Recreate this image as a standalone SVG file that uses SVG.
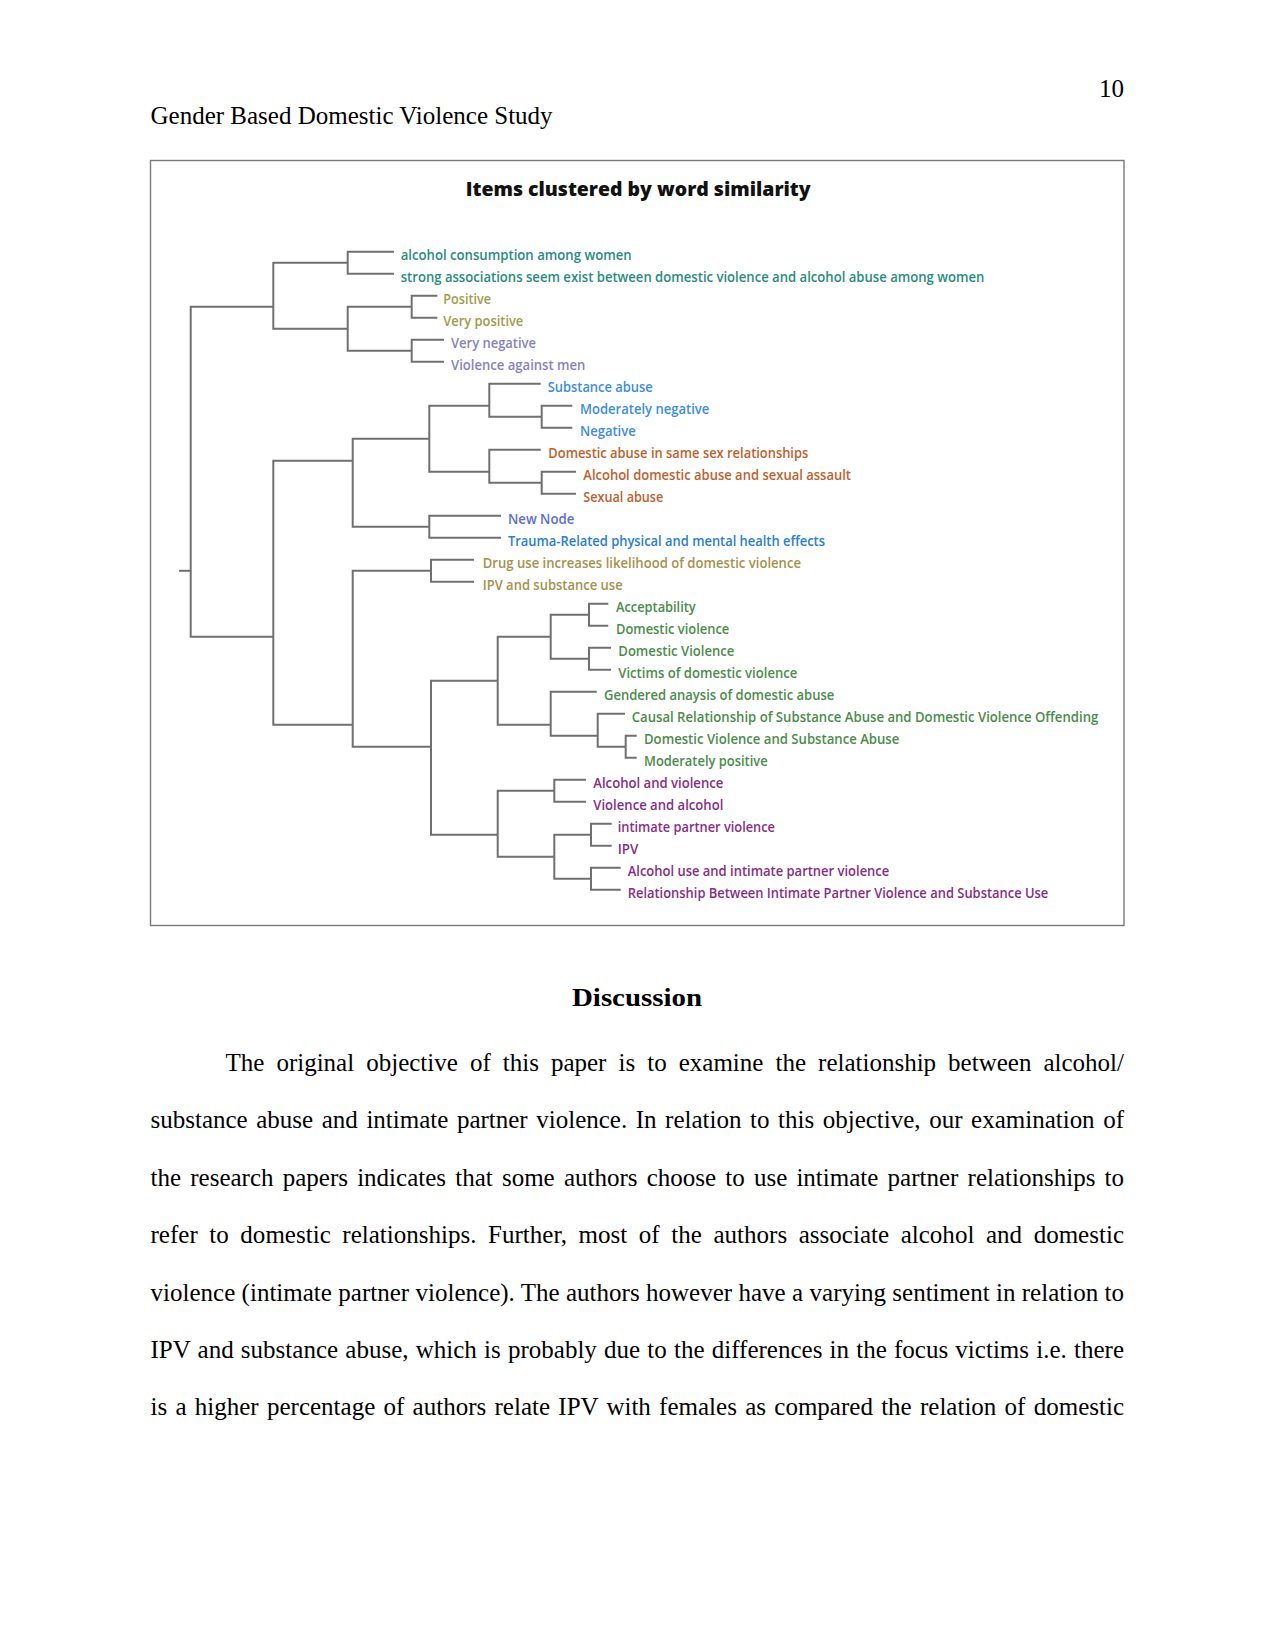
<svg xmlns="http://www.w3.org/2000/svg" width="1275" height="1651" viewBox="0 0 1275 1651">
<style>
.pg{font-family:"Liberation Serif","Times New Roman",serif;font-size:25px;fill:#000}
.ttl{font-family:"Open Sans","Noto Sans",sans-serif;font-size:19px;font-weight:800;fill:#111}
.lb{font-family:"Open Sans","Noto Sans",sans-serif;font-size:13.5px;font-weight:600}
.c0{fill:#288c7d}.c1{fill:#9e9c4a}.c2{fill:#8782c3}.c3{fill:#3c8ce6}.c4{fill:#be5f2d}
.c5{fill:#5a6ed7}.c6{fill:#287dd7}.c7{fill:#a5914b}.c8{fill:#4b8c4b}.c9{fill:#872d87}
.cn path{fill:none;stroke:#707070;stroke-width:2}
</style>
<rect width="1275" height="1651" fill="#fff"/>
<text class="pg" x="1124" y="97" text-anchor="end">10</text>
<text class="pg" x="150.5" y="124">Gender Based Domestic Violence Study</text>
<rect x="150.5" y="160.5" width="973.5" height="765" fill="#fff" stroke="#7a7a7a" stroke-width="1.4"/>
<text class="ttl" x="465.7" y="196" textLength="345" lengthAdjust="spacingAndGlyphs">Items clustered by word similarity</text>
<g id="connectors" class="cn">
<path d="M179 570.8 H190.7"/>
<path d="M273.3 306.8 H190.7 V636.8 H273.3"/>
<path d="M347.7 262.8 H273.3 V328.8 H347.7"/>
<path d="M394 251.8 H347.7 V273.8 H394"/>
<path d="M411.7 306.8 H347.7 V350.8 H411.7"/>
<path d="M437.3 295.8 H411.7 V317.8 H437.3"/>
<path d="M444 339.8 H411.7 V361.8 H444"/>
<path d="M352.7 460.8 H273.3 V724.8 H352.7"/>
<path d="M429.3 438.8 H352.7 V526.8 H429.3"/>
<path d="M489.3 405.8 H429.3 V471.8 H489.3"/>
<path d="M540.7 383.8 H489.3 V416.8 H541.7"/>
<path d="M572.3 405.8 H541.7 V427.8 H572.3"/>
<path d="M540.7 449.8 H489.3 V482.8 H541.7"/>
<path d="M576 471.8 H541.7 V493.8 H576"/>
<path d="M501 515.8 H429.3 V537.8 H501"/>
<path d="M431 570.8 H352.7 V746.8 H431"/>
<path d="M474 559.8 H431 V581.8 H474"/>
<path d="M497.7 680.8 H431 V834.8 H497.7"/>
<path d="M550.7 636.8 H497.7 V724.8 H550.7"/>
<path d="M589 614.8 H550.7 V658.8 H589"/>
<path d="M608.3 603.8 H589 V625.8 H608.3"/>
<path d="M611 647.8 H589 V669.8 H611"/>
<path d="M596.7 691.8 H550.7 V735.8 H597.7"/>
<path d="M625 713.8 H597.7 V746.8 H625.7"/>
<path d="M636.7 735.8 H625.7 V757.8 H636.7"/>
<path d="M554.3 790.8 H497.7 V856.8 H554.3"/>
<path d="M586 779.8 H554.3 V801.8 H586"/>
<path d="M591 834.8 H554.3 V878.8 H591"/>
<path d="M611.7 823.8 H591 V845.8 H611.7"/>
<path d="M620.7 867.8 H591 V889.8 H620.7"/>
</g>
<g id="n0"><text class="lb c0" x="400.7" y="260.1" textLength="231" lengthAdjust="spacingAndGlyphs">alcohol consumption among women</text></g>
<g id="n1"><text class="lb c0" x="400.7" y="282.1" textLength="583.6" lengthAdjust="spacingAndGlyphs">strong associations seem exist between domestic violence and alcohol abuse among women</text></g>
<g id="n2"><text class="lb c1" x="443.3" y="304.1" textLength="47.7" lengthAdjust="spacingAndGlyphs">Positive</text></g>
<g id="n3"><text class="lb c1" x="443.3" y="326.1" textLength="80" lengthAdjust="spacingAndGlyphs">Very positive</text></g>
<g id="n4"><text class="lb c2" x="451" y="348.1" textLength="85" lengthAdjust="spacingAndGlyphs">Very negative</text></g>
<g id="n5"><text class="lb c2" x="451" y="370.1" textLength="134.4" lengthAdjust="spacingAndGlyphs">Violence against men</text></g>
<g id="n6"><text class="lb c3" x="547.7" y="392.1" textLength="105" lengthAdjust="spacingAndGlyphs">Substance abuse</text></g>
<g id="n7"><text class="lb c3" x="580" y="414.1" textLength="129.3" lengthAdjust="spacingAndGlyphs">Moderately negative</text></g>
<g id="n8"><text class="lb c3" x="580" y="436.1" textLength="55.7" lengthAdjust="spacingAndGlyphs">Negative</text></g>
<g id="n9"><text class="lb c4" x="548.3" y="458.1" textLength="260" lengthAdjust="spacingAndGlyphs">Domestic abuse in same sex relationships</text></g>
<g id="n10"><text class="lb c4" x="583.3" y="480.1" textLength="267.7" lengthAdjust="spacingAndGlyphs">Alcohol domestic abuse and sexual assault</text></g>
<g id="n11"><text class="lb c4" x="583.3" y="502.1" textLength="80" lengthAdjust="spacingAndGlyphs">Sexual abuse</text></g>
<g id="n12"><text class="lb c5" x="508" y="524.1" textLength="66.3" lengthAdjust="spacingAndGlyphs">New Node</text></g>
<g id="n13"><text class="lb c6" x="508" y="546.1" textLength="317" lengthAdjust="spacingAndGlyphs">Trauma-Related physical and mental health effects</text></g>
<g id="n14"><text class="lb c7" x="482.7" y="568.1" textLength="318.3" lengthAdjust="spacingAndGlyphs">Drug use increases likelihood of domestic violence</text></g>
<g id="n15"><text class="lb c7" x="482.7" y="590.1" textLength="140" lengthAdjust="spacingAndGlyphs">IPV and substance use</text></g>
<g id="n16"><text class="lb c8" x="616" y="612.1" textLength="79.7" lengthAdjust="spacingAndGlyphs">Acceptability</text></g>
<g id="n17"><text class="lb c8" x="616" y="634.1" textLength="113.3" lengthAdjust="spacingAndGlyphs">Domestic violence</text></g>
<g id="n18"><text class="lb c8" x="618.3" y="656.1" textLength="116" lengthAdjust="spacingAndGlyphs">Domestic Violence</text></g>
<g id="n19"><text class="lb c8" x="618.3" y="678.1" textLength="179" lengthAdjust="spacingAndGlyphs">Victims of domestic violence</text></g>
<g id="n20"><text class="lb c8" x="604" y="700.1" textLength="230.3" lengthAdjust="spacingAndGlyphs">Gendered anaysis of domestic abuse</text></g>
<g id="n21"><text class="lb c8" x="631.7" y="722.1" textLength="466.6" lengthAdjust="spacingAndGlyphs">Causal Relationship of Substance Abuse and Domestic Violence Offending</text></g>
<g id="n22"><text class="lb c8" x="644" y="744.1" textLength="255.3" lengthAdjust="spacingAndGlyphs">Domestic Violence and Substance Abuse</text></g>
<g id="n23"><text class="lb c8" x="644" y="766.1" textLength="123.7" lengthAdjust="spacingAndGlyphs">Moderately positive</text></g>
<g id="n24"><text class="lb c9" x="593.3" y="788.1" textLength="130" lengthAdjust="spacingAndGlyphs">Alcohol and violence</text></g>
<g id="n25"><text class="lb c9" x="593.3" y="810.1" textLength="130" lengthAdjust="spacingAndGlyphs">Violence and alcohol</text></g>
<g id="n26"><text class="lb c9" x="617.7" y="832.1" textLength="157.3" lengthAdjust="spacingAndGlyphs">intimate partner violence</text></g>
<g id="n27"><text class="lb c9" x="617.7" y="854.1" textLength="20.6" lengthAdjust="spacingAndGlyphs">IPV</text></g>
<g id="n28"><text class="lb c9" x="627.7" y="876.1" textLength="261.6" lengthAdjust="spacingAndGlyphs">Alcohol use and intimate partner violence</text></g>
<g id="n29"><text class="lb c9" x="627.7" y="898.1" textLength="420.6" lengthAdjust="spacingAndGlyphs">Relationship Between Intimate Partner Violence and Substance Use</text></g>
<text class="pg" x="572" y="1006" font-size="29" font-weight="bold" textLength="130" lengthAdjust="spacingAndGlyphs">Discussion</text>
<text class="pg" x="225.5" y="1071" word-spacing="5.8" textLength="898.5" lengthAdjust="spacing">The original objective of this paper is to examine the relationship between alcohol/</text>
<text class="pg" x="150.5" y="1128.4" word-spacing="2.3" textLength="973.5" lengthAdjust="spacing">substance abuse and intimate partner violence. In relation to this objective, our examination of</text>
<text class="pg" x="150.5" y="1185.8" word-spacing="2.9" textLength="973.5" lengthAdjust="spacing">the research papers indicates that some authors choose to use intimate partner relationships to</text>
<text class="pg" x="150.5" y="1243.2" word-spacing="5.3" textLength="973.5" lengthAdjust="spacing">refer to domestic relationships. Further, most of the authors associate alcohol and domestic</text>
<text class="pg" x="150.5" y="1300.6" word-spacing="0.1" textLength="973.5" lengthAdjust="spacing">violence (intimate partner violence). The authors however have a varying sentiment in relation to</text>
<text class="pg" x="150.5" y="1358" word-spacing="0.9" textLength="973.5" lengthAdjust="spacing">IPV and substance abuse, which is probably due to the differences in the focus victims i.e. there</text>
<text class="pg" x="150.5" y="1415.4" word-spacing="2" textLength="973.5" lengthAdjust="spacing">is a higher percentage of authors relate IPV with females as compared the relation of domestic</text>
</svg>
